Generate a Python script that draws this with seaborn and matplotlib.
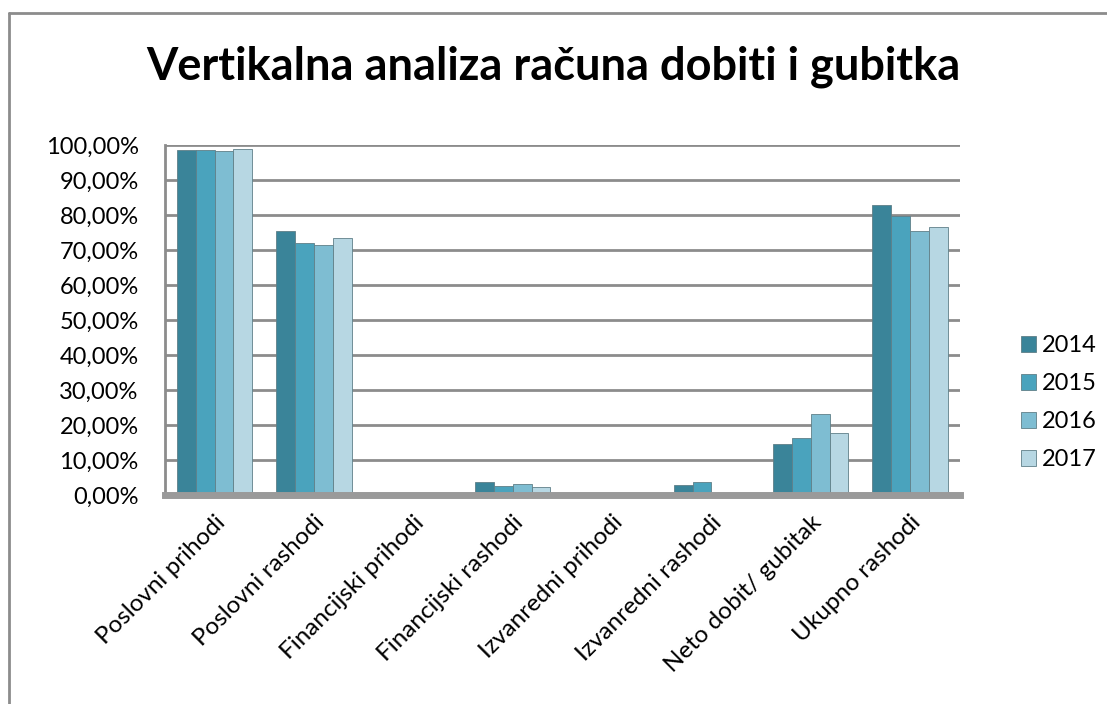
import matplotlib
matplotlib.use("Agg")
import matplotlib.pyplot as plt
import seaborn as sns
import pandas as pd
from matplotlib.ticker import FuncFormatter, MultipleLocator
from matplotlib.lines import Line2D

categories = ["Poslovni prihodi", "Poslovni rashodi", "Financijski prihodi",
              "Financijski rashodi", "Izvanredni prihodi", "Izvanredni rashodi",
              "Neto dobit/ gubitak", "Ukupno rashodi"]
years = ["2014", "2015", "2016", "2017"]
v2014 = [98.5, 75.5, 0.2, 3.8, 0.5, 2.7, 14.5, 83.0]
v2015 = [98.6, 72.0, 0.3, 2.5, 0.4, 3.8, 16.3, 79.6]
v2016 = [98.3, 71.5, 0.6, 3.2, 0.1, 0.1, 23.2, 75.3]
v2017 = [98.8, 73.5, 0.5, 2.4, 0.1, 0.1, 17.8, 76.5]
colors = ["#3A8499", "#4AA3BD", "#7EBDD2", "#B7D7E3"]

rows = []
for y, vals in zip(years, [v2014, v2015, v2016, v2017]):
    for c, v in zip(categories, vals):
        rows.append({"cat": c, "year": y, "val": v})
df = pd.DataFrame(rows)

sns.set_theme(style="white")
plt.rcParams['font.family'] = ['Lato', 'DejaVu Sans']
plt.rcParams['text.color'] = 'black'

fig = plt.figure(figsize=(11.07, 7.04), dpi=100)
ax = fig.add_axes([0.149, 0.297, 0.718, 0.497])

sns.barplot(data=df, x="cat", y="val", hue="year", palette=colors,
            ax=ax, width=0.76, saturation=1, edgecolor="#5f7f88", linewidth=0.6)

ax.set_ylim(0, 100)
ax.set_xlim(-0.5, 7.5)
ax.yaxis.set_major_locator(MultipleLocator(10))
ax.yaxis.set_major_formatter(FuncFormatter(lambda v, p: f"{v:.2f}%".replace(".", ",")))
ax.grid(axis="y", color="#8c8c8c", linewidth=2)
ax.set_axisbelow(True)
for s in ["top", "right"]:
    ax.spines[s].set_visible(False)
ax.spines["left"].set_color("#8c8c8c")
ax.spines["left"].set_linewidth(2)
ax.spines["bottom"].set_color("#9a9a9a")
ax.spines["bottom"].set_linewidth(5)
ax.set_xlabel("")
ax.set_ylabel("")
ax.tick_params(axis="y", labelsize=17, labelcolor="black", length=0, pad=19)
ax.tick_params(axis="x", labelsize=17.5, labelcolor="black", length=0, pad=12)
plt.setp(ax.get_xticklabels(), rotation=45, ha="right", rotation_mode="anchor")

leg = ax.legend(title=None, frameon=False, fontsize=17, loc="center left",
                bbox_to_anchor=(1.065, 0.263), labelspacing=0.72,
                handlelength=0.65, handleheight=0.65, handletextpad=0.25,
                borderaxespad=0)
for t in leg.get_texts():
    t.set_color("black")

fig.text(0.5, 0.905, "Vertikalna analiza računa dobiti i gubitka",
         ha="center", va="center", fontsize=32.5, fontweight="bold", color="black")

# chart area border (left and top edges visible in the frame)
fig.add_artist(Line2D([0.008, 0.008], [0.0, 0.981], transform=fig.transFigure,
                      color="#8c8c8c", linewidth=2))
fig.add_artist(Line2D([0.008, 1.0], [0.981, 0.981], transform=fig.transFigure,
                      color="#8c8c8c", linewidth=2))

fig.savefig("out.png", dpi=100, facecolor="white")
